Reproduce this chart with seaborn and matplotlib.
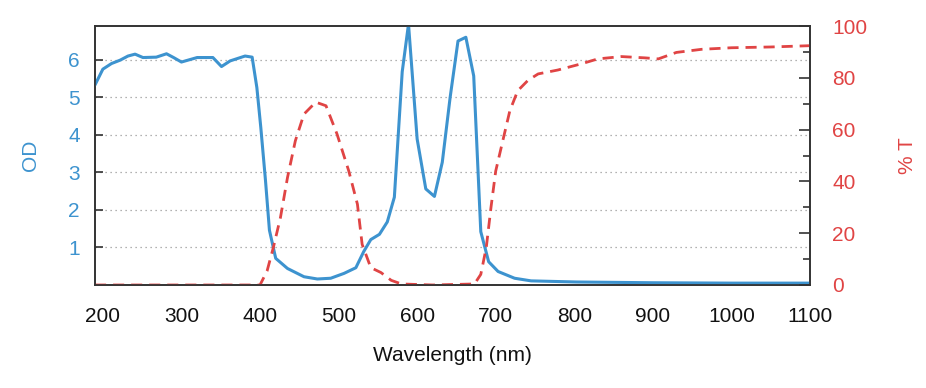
import numpy as np
import pandas as pd
import matplotlib
matplotlib.use("Agg")
import matplotlib.pyplot as plt
import seaborn as sns

# OD curve (blue)
od_wl = [190, 200, 211, 222, 232, 241, 251, 268, 281, 290, 300, 320, 340, 351, 362, 381, 390,
         396, 401, 407, 412, 420, 435, 456, 473, 490, 507, 522, 532, 541, 552, 562, 571, 581,
         589, 600, 611, 622, 632, 642, 652, 662, 672, 681, 691, 703, 724, 745, 803, 900, 1000, 1100]
od_val = [5.33, 5.75, 5.9, 5.99, 6.1, 6.15, 6.06, 6.07, 6.16, 6.06, 5.94, 6.06, 6.06, 5.82, 5.97, 6.1, 6.07,
          5.26, 4.2, 2.78, 1.46, 0.71, 0.44, 0.22, 0.16, 0.18, 0.31, 0.46, 0.89, 1.21, 1.35, 1.68, 2.34, 5.68,
          6.95, 3.89, 2.56, 2.36, 3.27, 5.0, 6.5, 6.6, 5.57, 1.42, 0.62, 0.36, 0.18, 0.11, 0.08, 0.06, 0.05, 0.05]

# %T curve (red dashed)
t_wl = [190, 300, 400, 409, 417, 426, 435, 445, 456, 471, 484, 498, 513, 524, 530, 541, 554, 567,
        580, 620, 673, 681, 688, 694, 700, 709, 718, 728, 741, 754, 779, 809, 830, 860, 890,
        907, 930, 962, 1000, 1050, 1100]
t_val = [0, 0, 0, 5.4, 14.5, 26, 41.5, 55.7, 66, 70.6, 69.2, 58.3, 44, 31.2, 15.7, 6.7, 4.8, 1.8,
         0.4, 0, 0.4, 4.1, 14.5, 30, 44, 55.7, 67.3, 75, 79, 81.5, 83, 85.4, 87.3, 88.2, 87.7,
         87.3, 89.8, 91.0, 91.6, 91.9, 92.4]

od_df = pd.DataFrame({"wl": od_wl, "od": od_val})
t_df = pd.DataFrame({"wl": t_wl, "t": t_val})

blue = "#3d93cf"
red = "#e04444"

sns.set_style("white")
plt.rcParams["font.family"] = ["Liberation Sans", "DejaVu Sans"]

fig = plt.figure(figsize=(9.26, 3.88), dpi=100)
ax = fig.add_axes([95 / 926, 1 - 285 / 388, 715 / 926, 259 / 388])
ax2 = ax.twinx()

sns.lineplot(data=od_df, x="wl", y="od", ax=ax, color=blue, linewidth=2.2, zorder=3)
sns.lineplot(data=t_df, x="wl", y="t", ax=ax2, color=red, linewidth=2.0,
             linestyle=(0, (4, 2.5)), zorder=2)

ax.set_xlim(190, 1100)
ax.set_ylim(0, 6.9)
ax2.set_ylim(0, 100)

ax.set_xticks(range(200, 1101, 100))
ax.set_yticks([1, 2, 3, 4, 5, 6])
ax2.set_yticks(range(0, 101, 20))
ax2.set_yticks(range(10, 100, 20), minor=True)

ax.yaxis.grid(True, linestyle=(0, (1, 3)), color="#999999", linewidth=0.9)
ax.set_axisbelow(True)

for a in (ax, ax2):
    for s in a.spines.values():
        s.set_color("#333333")
        s.set_linewidth(1.2)

ax.tick_params(axis="x", direction="in", length=8, width=1.2, color="#333333",
               labelsize=15, pad=16, labelcolor="#111111")
ax.tick_params(axis="y", direction="in", length=6, width=1.2, color="#333333",
               labelsize=15, pad=11, labelcolor=blue)
ax2.tick_params(axis="y", which="major", direction="in", length=8, width=1.2, color="#333333",
                labelsize=15, pad=16, labelcolor=red)
ax2.tick_params(axis="y", which="minor", direction="in", length=5, width=1.2, color="#333333")

ax.set_xlabel("Wavelength (nm)", fontsize=15, color="#111111", labelpad=14)
ax.set_ylabel("OD", fontsize=15, color=blue, labelpad=20)
ax2.set_ylabel("% T", fontsize=15, color=red, labelpad=22)

fig.savefig("out.png", dpi=100)
